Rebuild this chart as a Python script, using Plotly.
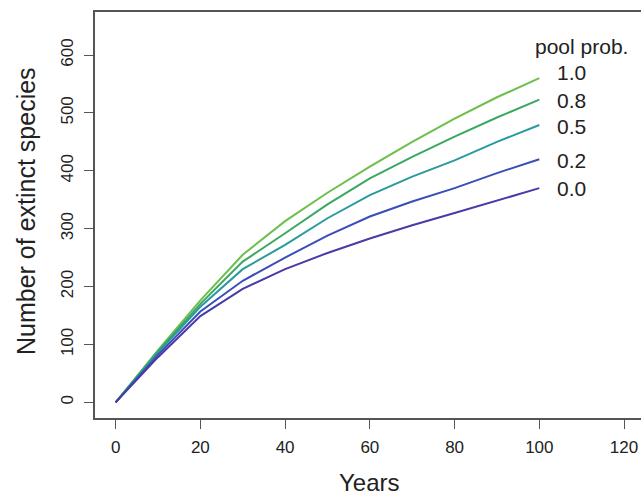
import plotly.graph_objects as go

years = [0, 10, 20, 30, 40, 50, 60, 70, 80, 90, 100]
pool_labels = ["1.0", "0.8", "0.5", "0.2", "0.0"]
extinct_10 = [0, 90, 176, 255, 313, 362, 407, 450, 490, 527, 560]
extinct_08 = [0, 88, 170, 243, 292, 342, 387, 424, 459, 492, 523]
extinct_05 = [0, 86, 165, 230, 272, 318, 358, 390, 418, 450, 479]
extinct_02 = [0, 82, 157, 210, 250, 288, 321, 347, 370, 396, 420]
extinct_00 = [0, 78, 149, 196, 230, 258, 283, 306, 327, 349, 370]
label_y = [570, 522, 477, 418, 370]
x_ticks = [0, 20, 40, 60, 80, 100, 120]
y_ticks = [0, 100, 200, 300, 400, 500, 600]

series = [extinct_10, extinct_08, extinct_05, extinct_02, extinct_00]
colors = ["#6cc04a", "#3aa860", "#2a9a9e", "#3a4eb8", "#4a3aa8"]

FONT = "Liberation Sans, Arial, sans-serif"
TXT = "#222222"
AX = "#555555"

fig = go.Figure()
for lab, vals, col in zip(pool_labels, series, colors):
    fig.add_trace(go.Scatter(x=years, y=vals, mode="lines", name=lab,
                             line=dict(color=col, width=2), showlegend=False))

annotations = []
for lab, ly in zip(pool_labels, label_y):
    annotations.append(dict(x=103.8, y=ly, xref="x", yref="y", text=lab,
                            showarrow=False, xanchor="left", yanchor="middle",
                            font=dict(family=FONT, size=21, color=TXT)))
annotations.append(dict(x=109.9, y=614, xref="x", yref="y", text="pool prob.",
                        showarrow=False, xanchor="center", yanchor="middle",
                        font=dict(family=FONT, size=21, color=TXT)))
annotations.append(dict(x=(369 - 95) / 546, y=(418 - 482) / 406, xref="paper", yref="paper",
                        text="Years", showarrow=False, xanchor="center", yanchor="middle",
                        font=dict(family=FONT, size=24, color=TXT)))
annotations.append(dict(x=(26 - 95) / 546, y=(418 - 211) / 406, xref="paper", yref="paper",
                        text="Number of extinct species", showarrow=False, textangle=-90,
                        xanchor="center", yanchor="middle",
                        font=dict(family=FONT, size=25, color=TXT)))

fig.update_layout(
    width=641, height=495,
    margin=dict(l=95, r=0, t=12, b=77),
    paper_bgcolor="white", plot_bgcolor="white",
    annotations=annotations,
    xaxis=dict(range=[-4.87, 124.0], tickvals=x_ticks, ticktext=[str(v) for v in x_ticks],
               showgrid=False, zeroline=False, showline=True, mirror=True,
               linecolor=AX, linewidth=1.5, ticks="outside", ticklen=9, tickwidth=1.2,
               tickcolor=AX, ticklabelstandoff=4, ticklabeloverflow="allow",
               tickfont=dict(family=FONT, size=17, color=TXT)),
    yaxis=dict(range=[-27.1, 674.3], tickvals=y_ticks, ticktext=[str(v) for v in y_ticks],
               showgrid=False, zeroline=False, showline=True, mirror=False,
               linecolor=AX, linewidth=1.5, ticks="outside", ticklen=9, tickwidth=1.2,
               tickcolor=AX, tickangle=-90, ticklabelstandoff=4,
               tickfont=dict(family=FONT, size=17, color=TXT)),
)

fig.write_html("out.html", config={"displayModeBar": False},
               post_script="document.body.style.margin='0';document.body.style.overflow='hidden';")
